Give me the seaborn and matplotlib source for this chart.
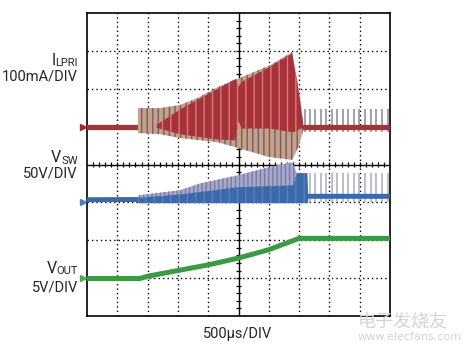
import numpy as np
import pandas as pd
import seaborn as sns
import matplotlib.pyplot as plt

# ==========================
# scope data, in divisions
# x: 0..10 div (500us/DIV), y: 0..8 div from the bottom
# ==========================

# ---- I_LPRI (100mA/DIV) ----
ilp_base_t = [0.0, 10.0]
ilp_base_y = [5.0, 5.0]
ilp_env_top_t = [1.68, 2.40, 3.07, 3.63, 4.30, 4.88, 6.04, 6.77, 7.03, 7.13]
ilp_env_top_y = [5.49, 5.49, 5.57, 5.75, 6.04, 6.23, 6.62, 6.97, 5.78, 5.10]
ilp_env_bot_t = [1.68, 2.40, 3.07, 4.30, 4.88, 6.00, 6.77, 7.00, 7.13]
ilp_env_bot_y = [4.83, 4.80, 4.70, 4.59, 4.46, 4.20, 4.12, 4.50, 4.90]
ilp_core_top_t = [2.30, 3.07, 3.63, 4.30, 4.90, 5.00, 5.10, 6.04, 6.77, 7.03, 7.13]
ilp_core_top_y = [5.05, 5.45, 5.70, 5.99, 6.26, 6.05, 6.18, 6.58, 6.93, 5.70, 5.05]
ilp_core_bot_t = [2.30, 3.07, 4.30, 4.90, 5.00, 5.10, 6.00, 6.80, 7.13]
ilp_core_bot_y = [4.97, 4.80, 4.66, 4.64, 5.15, 4.95, 4.95, 4.85, 4.97]

# switching spikes after the burst (same on both switch traces)
spike_t = [7.20, 7.37, 7.54, 7.72, 7.90, 8.08, 8.26, 8.44, 8.63, 8.81,
           8.99, 9.17, 9.36, 9.55, 9.74, 9.93]
ilp_spike_top = 5.46
ilp_spike_bot = 4.85

# ---- V_SW (50V/DIV) ----
vsw_base_t = [0.0, 6.90, 7.20, 10.0]
vsw_base_y = [3.07, 3.09, 3.16, 3.16]
vsw_env_t = [1.70, 3.07, 3.73, 5.00, 6.00, 6.77, 6.93, 7.27]
vsw_env_top = [3.19, 3.32, 3.50, 3.72, 3.93, 4.06, 3.77, 3.77]
vsw_env_bot = [2.98, 2.98, 2.98, 2.98, 2.98, 2.98, 2.98, 3.05]
vsw_core_t = [1.70, 3.00, 5.00, 6.80, 6.93, 7.27, 7.30]
vsw_core_top = [3.12, 3.20, 3.40, 3.45, 3.77, 3.77, 3.20]
vsw_spike_top = 3.77
vsw_spike_bot = 3.00

# ---- V_OUT (5V/DIV) ----
vout_t = [0.0, 1.75, 2.00, 3.00, 4.00, 5.00, 6.00, 7.00, 10.0]
vout_y = [0.99, 0.99, 1.05, 1.20, 1.35, 1.53, 1.75, 2.05, 2.05]

# channel labels
ch_main = ["I", "V", "V"]
ch_sub = ["LPRI", "SW", "OUT"]
ch_scale = ["100mA/DIV", "50V/DIV", "5V/DIV"]
time_scale = "500µs/DIV"

RED, TAN, GREYBRN = "#a8323a", "#c6a08a", "#6f6060"
BLUE, LAV = "#3a6ba8", "#a7a7d2"
GREEN = "#3c9a42"
TXT = "#262626"

sns.set_theme(style="white")
plt.rcParams["font.family"] = ["Roboto", "DejaVu Sans"]
plt.rcParams["hatch.linewidth"] = 1.0

fig = plt.figure(figsize=(4.69, 3.51), dpi=100)
ax = fig.add_axes([87 / 469, 35 / 351, 303 / 469, 303 / 351])
ax.set_xlim(0, 10)
ax.set_ylim(0, 8)
ax.set_xticks([])
ax.set_yticks([])
for s in ax.spines.values():
    s.set_color("black")
    s.set_linewidth(1.2)

# graticule
for gx in [1, 2, 3, 4, 6, 7, 8, 9]:
    ax.axvline(gx, color="black", lw=1.0, ls=(0, (1, 2.2)), zorder=1)
for gy in [1, 2, 3, 5, 6, 7]:
    ax.axhline(gy, color="black", lw=1.0, ls=(0, (1, 2.2)), zorder=1)
ax.axvline(5, color="black", lw=1.0, zorder=1)
ax.axhline(4, color="black", lw=1.0, zorder=1)
mt = np.arange(0.2, 10, 0.2)
ax.vlines(mt, 4 - 0.07, 4 + 0.07, color="black", lw=0.9, zorder=1)
mt = np.arange(0.2, 8, 0.2)
ax.hlines(mt, 5 - 0.09, 5 + 0.09, color="black", lw=0.9, zorder=1)

# ---- I_LPRI ----
sns.lineplot(x=ilp_base_t, y=ilp_base_y, color=RED, lw=3.8, ax=ax, zorder=3)
ax.fill(np.r_[ilp_env_top_t, ilp_env_bot_t[::-1]],
        np.r_[ilp_env_top_y, ilp_env_bot_y[::-1]],
        facecolor=TAN, edgecolor=GREYBRN, hatch="|||", lw=0, zorder=4)
ax.fill(np.r_[ilp_core_top_t, ilp_core_bot_t[::-1]],
        np.r_[ilp_core_top_y, ilp_core_bot_y[::-1]],
        facecolor=RED, edgecolor="#d97a7a", hatch="||", lw=0, zorder=5)
ax.vlines(spike_t, ilp_spike_bot, ilp_spike_top, color="#8c8888", lw=1.1, zorder=2)

# ---- V_SW ----
sns.lineplot(x=vsw_base_t, y=vsw_base_y, color=BLUE, lw=3.6, ax=ax, zorder=3)
ax.fill(np.r_[vsw_env_t, vsw_env_t[::-1]], np.r_[vsw_env_top, vsw_env_bot[::-1]],
        facecolor=LAV, edgecolor="#7c7c98", hatch="||||", lw=0, zorder=4)
ax.fill(np.r_[vsw_core_t, vsw_core_t[::-1]],
        np.r_[vsw_core_top, [2.98] * len(vsw_core_t)],
        facecolor=BLUE, edgecolor="#5a7fc0", hatch="||", lw=0, zorder=5)
ax.vlines(spike_t, vsw_spike_bot, vsw_spike_top, color="#a9adbb", lw=1.1, zorder=2)

# ---- V_OUT ----
sns.lineplot(x=vout_t, y=vout_y, color=GREEN, lw=3.6, ax=ax, zorder=3)

# channel ground markers
for yy, cc in [(5.0, "#9c2a3c"), (3.0, "#4c82bb"), (1.0, "#55a85a")]:
    ax.plot([-0.12], [yy], marker=">", ms=5, color=cc, clip_on=False, zorder=6)

# labels (pixel positions converted to figure fractions)
def fx(px):
    return px / 469

def fy(py):
    return 1 - py / 351

renderer = fig.canvas.get_renderer()
for main, sub, scale, yb, ys in zip(ch_main, ch_sub, ch_scale,
                                    [65, 162, 273], [80.5, 177, 292]):
    t_sub = fig.text(fx(78), fy(yb + 1.5), sub, ha="right", va="baseline",
                     fontsize=8, color=TXT)
    x0 = t_sub.get_window_extent(renderer).x0
    fig.text(x0 / 469, fy(yb), main, ha="right", va="baseline",
             fontsize=11.5, color=TXT)
    fig.text(fx(78), fy(ys), scale, ha="right", va="baseline",
             fontsize=10.5, color=TXT)
fig.text(fx(238), fy(338), time_scale, ha="center", va="baseline",
         fontsize=10.5, color=TXT)

# site watermark
fig.text(fx(403), fy(326), "电子发烧友", ha="center", va="baseline", fontsize=13,
         color="#d4d4d4", family=["Noto Sans CJK SC", "DejaVu Sans"], style="italic")
fig.text(fx(410), fy(340), "www.elecfans.com", ha="center", va="baseline", fontsize=8,
         color="#d4d4d4", family=["DejaVu Sans"])

fig.savefig("out.png", dpi=100)
